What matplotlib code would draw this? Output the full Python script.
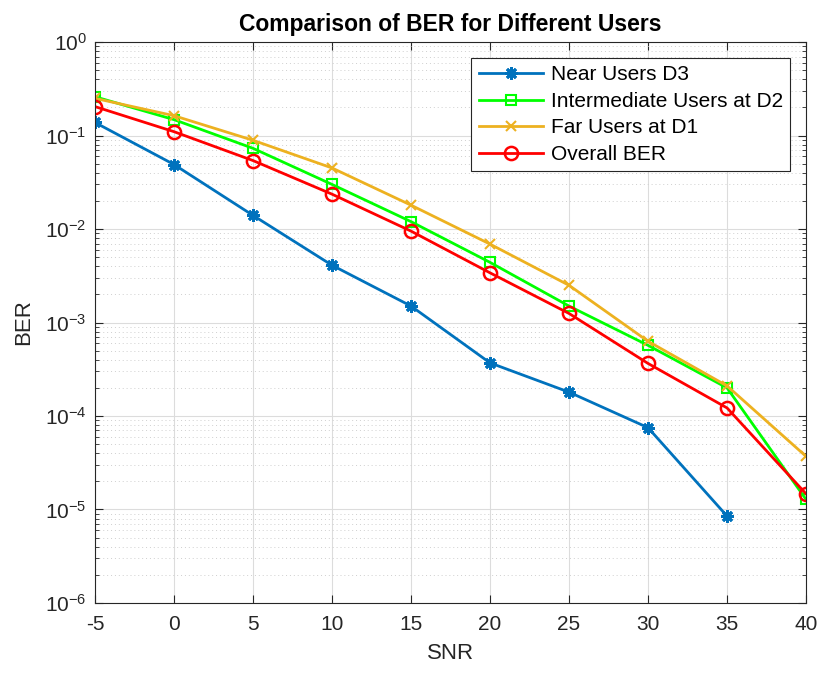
import numpy as np
import matplotlib.pyplot as plt

plt.rcParams['font.family'] = ['Liberation Sans', 'DejaVu Sans']

snr = [-5, 0, 5, 10, 15, 20, 25, 30, 35, 40]

# BER per user group (near users have no errors at 40 dB)
ber_near = [0.138, 0.049, 0.014, 0.0041, 0.0015, 3.7e-4, 1.8e-4, 7.5e-5, 8.5e-6, np.nan]
ber_mid = [0.26, 0.148, 0.073, 0.030, 0.012, 0.0044, 0.0015, 5.7e-4, 2.0e-4, 1.28e-5]
ber_far = [0.25, 0.163, 0.089, 0.045, 0.018, 0.0069, 0.0025, 6.3e-4, 2.1e-4, 3.7e-5]
ber_all = [0.204, 0.11, 0.054, 0.0236, 0.0095, 0.0034, 0.00125, 3.65e-4, 1.22e-4, 1.47e-5]

fig = plt.figure(figsize=(8.23, 6.75), dpi=100)
ax = fig.add_axes([0.1154, 0.1067, 0.864, 0.831])

ax.semilogy(snr, ber_near, '-', marker=(8, 2, 0), color='#0072BD', lw=2, ms=9, mew=2,
            label='Near Users D3')
ax.semilogy(snr, ber_mid, '-s', color='#00FF00', lw=2, ms=7, mfc='none', mew=1.5,
            label='Intermediate Users at D2')
ax.semilogy(snr, ber_far, '-x', color='#EDB120', lw=2, ms=7, mew=1.5, label='Far Users at D1')
ax.semilogy(snr, ber_all, '-o', color='#FF0000', lw=2, ms=9.5, mfc='none', mew=1.8,
            label='Overall BER')

ax.set_xlim(-5, 40)
ax.set_ylim(1e-6, 1e0)
ax.set_xticks(snr)
ax.set_xticklabels([str(s) for s in snr])

ax.grid(True, which='major', color='#dcdcdc', lw=0.8)
ax.grid(True, which='minor', color='#cfcfcf', lw=0.7, linestyle=(0, (1, 3)))
ax.set_axisbelow(True)

ax.tick_params(which='both', direction='in', top=True, right=True, labelsize=15,
               colors='#262626')
ax.tick_params(axis='x', which='major', pad=9)
ax.tick_params(axis='y', which='major', pad=6)
ax.tick_params(which='major', length=6)
ax.tick_params(which='minor', length=3)
for sp in ax.spines.values():
    sp.set_color('#262626')
    sp.set_linewidth(0.8)

ax.set_xlabel('SNR', fontsize=16, color='#262626', labelpad=6)
ax.set_ylabel('BER', fontsize=16, color='#262626', labelpad=8)
ax.set_title('Comparison of BER for Different Users', fontsize=16.5, fontweight='bold', pad=8)

leg = ax.legend(loc='upper right', bbox_to_anchor=(0.992, 0.99), fontsize=15,
                fancybox=False, edgecolor='#262626', framealpha=1,
                handlelength=3.1, handletextpad=0.35, borderpad=0.35, labelspacing=0.36)
leg.get_frame().set_linewidth(0.8)

fig.savefig('out.png', dpi=100)
